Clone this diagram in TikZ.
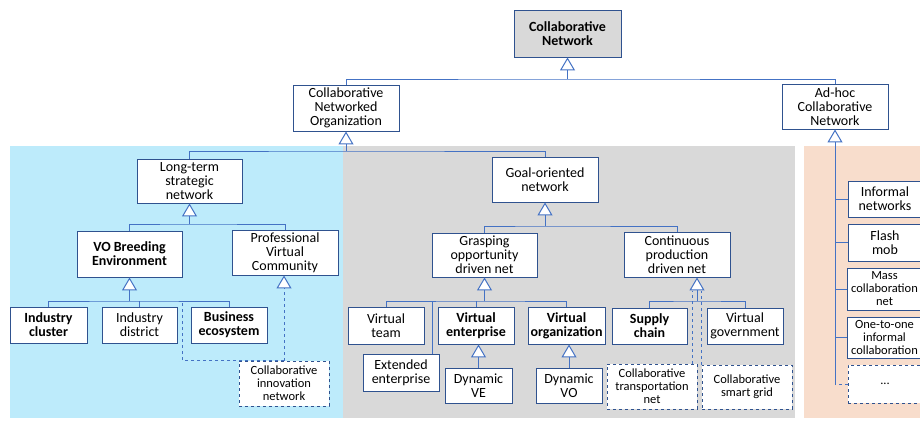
\documentclass[tikz,border=0pt]{standalone}
\usepackage{fontspec}
\setmainfont{Carlito}
\usetikzlibrary{arrows.meta}

\definecolor{boxBorder}{HTML}{2F528F}
\definecolor{linkColor}{HTML}{4472C4}
\definecolor{panelBlue}{HTML}{BDEBFB}
\definecolor{panelGray}{HTML}{D9D9D9}
\definecolor{panelOrange}{HTML}{F8DDCC}

\begin{document}
\begin{tikzpicture}[x=1pt, y=-1pt,
	box/.style={draw=boxBorder, fill=white, line width=0.9pt, align=center, inner sep=1pt,
		font=\fontsize{14}{14}\selectfont},
	keybox/.style={box, font=\fontsize{14}{14}\selectfont\bfseries},
	smallbox/.style={box, font=\fontsize{12.5}{13}\selectfont},
	dashbox/.style={smallbox, dashed},
	link/.style={draw=linkColor, line width=1pt},
	dlink/.style={link, dashed},
	gen/.style={link, -{Triangle[length=13pt, width=15pt, fill=white, line width=1pt]}}]

	\useasboundingbox (0,0) rectangle (920,421);
	\clip (0,0) rectangle (920,421);

	% Panels
	\fill[panelBlue] (10,146) rectangle (343,418);
	\fill[panelGray] (343,146) rectangle (795,418);
	\fill[panelOrange] (804,146) rectangle (930,418);

	% Top levels
	\node[keybox, fill=panelGray, minimum width=107pt, minimum height=47pt] (cn) at (567.5,33.5)
		{Collaborative\\Network};
	\node[box, minimum width=106pt, minimum height=46pt] (cno) at (346,108)
		{Collaborative\\Networked\\Organization};
	\node[box, minimum width=106pt, minimum height=45pt] (adhoc) at (835,106.5)
		{Ad-hoc\\Collaborative\\Network};

	% Organizations
	\node[box, minimum width=105pt, minimum height=44pt] (lts) at (189.5,181)
		{Long-term\\strategic\\network};
	\node[box, minimum width=106pt, minimum height=45pt] (gon) at (545,179.5)
		{Goal-oriented\\network};

	% Long-term branch
	\node[keybox, minimum width=105pt, minimum height=46pt] (vobe) at (129.5,254)
		{VO Breeding\\Environment};
	\node[box, minimum width=106pt, minimum height=45pt] (pvc) at (285,252.5)
		{Professional\\Virtual\\Community};
	\node[keybox, minimum width=77pt, minimum height=36pt] (ic) at (48.5,325)
		{Industry\\cluster};
	\node[box, minimum width=75pt, minimum height=36pt] (id) at (139.5,325)
		{Industry\\district};
	\node[keybox, minimum width=76pt, minimum height=36pt] (be) at (229,325)
		{Business\\ecosystem};
	\node[dashbox, minimum width=90pt, minimum height=45pt] (cin) at (284,383.5)
		{Collaborative\\innovation\\network};

	% Goal-oriented branch
	\node[box, minimum width=105pt, minimum height=44pt] (gr) at (484.5,255)
		{Grasping\\opportunity\\driven net};
	\node[box, minimum width=106pt, minimum height=45pt] (cp) at (677,254.5)
		{Continuous\\production\\driven net};
	\node[box, minimum width=76pt, minimum height=37pt] (vt) at (386,325.5)
		{Virtual\\team};
	\node[box, minimum width=76pt, minimum height=37pt] (ee) at (401,372.5)
		{Extended\\enterprise};
	\node[keybox, minimum width=76pt, minimum height=37pt] (ve) at (476,325.5)
		{Virtual\\enterprise};
	\node[keybox, minimum width=77pt, minimum height=37pt] (vo) at (566.5,325.5)
		{Virtual\\organization};
	\node[box, minimum width=67pt, minimum height=35pt] (dve) at (478.5,385.5)
		{Dynamic\\VE};
	\node[box, minimum width=66pt, minimum height=35pt] (dvo) at (569,385.5)
		{Dynamic\\VO};
	\node[keybox, minimum width=75pt, minimum height=36pt] (sc) at (649.5,326)
		{Supply\\chain};
	\node[box, minimum width=76pt, minimum height=36pt] (vg) at (745,326)
		{Virtual\\government};
	\node[dashbox, minimum width=90pt, minimum height=45pt] (ctn) at (652,386.5)
		{Collaborative\\transportation\\net};
	\node[dashbox, minimum width=90pt, minimum height=44pt] (csg) at (747,387)
		{Collaborative\\smart grid};

	% Ad-hoc branch
	\node[box, minimum width=74pt, minimum height=36pt] (inf) at (885,199)
		{Informal\\networks};
	\node[box, minimum width=74pt, minimum height=37pt] (fm) at (885,242.5)
		{Flash\\mob};
	\node[smallbox, minimum width=75pt, minimum height=42pt] (mc) at (884.5,289)
		{Mass\\collaboration\\net};
	\node[smallbox, minimum width=75pt, minimum height=41pt] (oto) at (884.5,337.5)
		{One-to-one\\informal\\collaboration};
	\node[dashbox, minimum width=74pt, minimum height=38pt] (dots) at (885,384)
		{...};

	% Junctions
	\coordinate (cnJ) at (567.5,79);
	\coordinate (cnoJ) at (346,151);
	\coordinate (ltsJ) at (189.5,224);
	\coordinate (gonJ) at (545,226);
	\coordinate (vobeJ) at (129.5,301);
	\coordinate (grJ) at (484.5,301);
	\coordinate (cpJ) at (697,301);
	\coordinate (cpT) at (697,291);
	\coordinate (ahEnd) at (835,385);

	% Generalization arrows
	\draw[gen] (cnJ) -- (cn.south);
	\draw[gen] (cnoJ) -- (cno.south);
	\draw[gen] (ltsJ) -- (lts.south);
	\draw[gen] (gonJ) -- (gon.south);
	\draw[gen] (vobeJ) -- (vobe.south);
	\draw[gen] (grJ) -- (gr.south);
	\draw[gen] (cpJ) -- (cpJ |- cp.south);
	\draw[gen] (dve.north) -- (dve.north |- ve.south);
	\draw[gen] (dvo.north) -- (dvo.north |- vo.south);
	\draw[gen] (ahEnd) -- (adhoc.south);
	\draw[gen, dashed] (cin.north) -- (cin.north |- pvc.south);

	% Bars
	\draw[link] (cno.north) |- (cnJ) -| (adhoc.north);
	\draw[link] (lts.north) |- (cnoJ) -| (gon.north);
	\draw[link] (vobe.north) |- (ltsJ) -| (pvc.north);
	\draw[link] (gr.north) |- (gonJ) -| (cp.north);
	\draw[link] (ic.north) |- (vobeJ) -| (be.north);
	\draw[link] (id.north) -- (id.north |- vobeJ);
	\draw[link] (vt.north) |- (grJ) -| (vo.north);
	\draw[link] (ve.north) -- (ve.north |- grJ);
	\draw[link] ([xshift=-7pt]ee.north east) -- ([xshift=-7pt]ee.north east |- grJ);
	\draw[link] (sc.north) |- (cpJ) -| (vg.north);
	\foreach \n in {inf, fm, mc, oto}
		\draw[link] (\n.west) -- (\n.west -| ahEnd);

	% Dashed links
	\draw[dlink] (cin.north) -| (vobe.east |- vobeJ);
	\draw[dlink] ([xshift=-5pt]ctn.north east) -- ([xshift=-5pt]ctn.north east |- cpT);
	\draw[dlink] (csg.north west) -- (csg.north west |- cpT);
	\draw[dlink] (dots.west) -- (dots.west -| ahEnd);

\end{tikzpicture}
\end{document}
